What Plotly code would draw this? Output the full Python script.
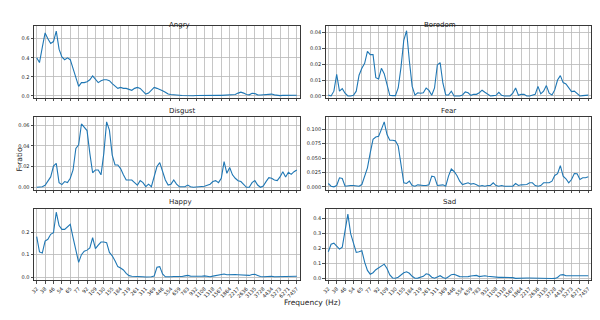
import plotly.graph_objects as go

freq_labels = ["32", "38", "46", "54", "65", "77", "92", "109", "130", "155", "184", "219",
               "261", "311", "369", "446", "554", "659", "783", "932", "1108", "1318", "1567",
               "1864", "2217", "2636", "3135", "3728", "4434", "5273", "6271", "7457"]

angry = [0.40, 0.35, 0.51, 0.66, 0.60, 0.55, 0.57, 0.68, 0.49, 0.41, 0.38, 0.40, 0.38, 0.29,
         0.18, 0.10, 0.14, 0.14, 0.15, 0.17, 0.21, 0.18, 0.14, 0.16, 0.17, 0.17, 0.16, 0.13,
         0.10, 0.08, 0.09, 0.08, 0.08, 0.07, 0.06, 0.08, 0.09, 0.08, 0.045, 0.02, 0.03, 0.06,
         0.09, 0.08, 0.07, 0.055, 0.04, 0.02, 0.015, 0.015, 0.01, 0.008, 0.005, 0.003, 0.002,
         0.002, 0.003, 0.005, 0.006, 0.006, 0.007, 0.006, 0.006, 0.007, 0.008, 0.007, 0.006,
         0.007, 0.008, 0.007, 0.01, 0.015, 0.03, 0.04, 0.03, 0.015, 0.012, 0.028, 0.025, 0.012,
         0.01, 0.012, 0.018, 0.022, 0.02, 0.012, 0.005, 0.004, 0.006, 0.006, 0.008, 0.007,
         0.008, 0.008]

boredom = [0.0005, 0.0, 0.003, 0.0136, 0.003, 0.0046, 0.0017, 0.0, 0.0, 0.0004, 0.003, 0.013,
           0.0174, 0.0205, 0.028, 0.026, 0.026, 0.0115, 0.0107, 0.0174, 0.014, 0.007, 0.0004,
           0.0002, 0.0002, 0.005, 0.018, 0.035, 0.041, 0.022, 0.006, 0.0005, 0.002, 0.0017,
           0.002, 0.005, 0.0035, 0.0004, 0.005, 0.0195, 0.021, 0.008, 0.0006, 0.0006, 0.003,
           0.0, 0.0, 0.0, 0.0006, 0.0025, 0.002, 0.0004, 0.001, 0.001, 0.002, 0.0036, 0.0023,
           0.001, 0.0, 0.0002, 0.0004, 0.0023, 0.0004, 0.0, 0.0, 0.0, 0.0017, 0.005, 0.0004,
           0.001, 0.001, 0.0, 0.0, 0.0006, 0.001, 0.006, 0.0013, 0.003, 0.0065, 0.0017, 0.0006,
           0.0038, 0.010, 0.0128, 0.0084, 0.0075, 0.0048, 0.0027, 0.003, 0.0013, 0.0, 0.0002,
           0.0004, 0.0005]

disgust = [0.0, 0.0, 0.0006, 0.002, 0.0055, 0.010, 0.0205, 0.023, 0.0045, 0.0026, 0.0055,
           0.0045, 0.0087, 0.0167, 0.0375, 0.041, 0.061, 0.058, 0.0546, 0.0327, 0.014, 0.0167,
           0.0167, 0.012, 0.0327, 0.063, 0.055, 0.031, 0.0215, 0.0215, 0.018, 0.012, 0.007,
           0.007, 0.007, 0.0045, 0.002, 0.0064, 0.0045, 0.0006, 0.003, 0.0006, 0.010, 0.020,
           0.0238, 0.015, 0.007, 0.0022, 0.003, 0.007, 0.003, 0.0006, 0.0006, 0.0006, 0.0022,
           0.0006, 0.0, 0.0003, 0.0, 0.0003, 0.001, 0.002, 0.003, 0.0055, 0.0064, 0.0045,
           0.0087, 0.0247, 0.0135, 0.019, 0.012, 0.0087, 0.0064, 0.0055, 0.0022, 0.0, 0.0,
           0.0045, 0.0064, 0.0022, 0.0, 0.0013, 0.0055, 0.0093, 0.0087, 0.007, 0.0064, 0.010,
           0.015, 0.010, 0.0145, 0.0125, 0.015, 0.0167]

fear = [0.0058, 0.001, 0.0, 0.0023, 0.0157, 0.0145, 0.001, 0.0023, 0.0023, 0.0023, 0.001,
        0.001, 0.004, 0.0186, 0.033, 0.059, 0.0826, 0.0866, 0.088, 0.100, 0.113, 0.091, 0.081,
        0.081, 0.080, 0.071, 0.042, 0.007, 0.0058, 0.0099, 0.0023, 0.001, 0.0035, 0.0023,
        0.0023, 0.0023, 0.0035, 0.0186, 0.0174, 0.0023, 0.0023, 0.0035, 0.001, 0.0186, 0.031,
        0.0267, 0.0198, 0.0099, 0.004, 0.0058, 0.007, 0.0047, 0.0058, 0.0035, 0.001, 0.0023,
        0.001, 0.0023, 0.0023, 0.007, 0.0023, 0.001, 0.0023, 0.001, 0.001, 0.0023, 0.001,
        0.0058, 0.0023, 0.0035, 0.0035, 0.004, 0.007, 0.007, 0.0023, 0.001, 0.0023, 0.007,
        0.007, 0.007, 0.0099, 0.0198, 0.023, 0.037, 0.0186, 0.014, 0.007, 0.0128, 0.023,
        0.0227, 0.0128, 0.0157, 0.0157, 0.0174]

happy = [0.18, 0.112, 0.107, 0.16, 0.168, 0.19, 0.197, 0.288, 0.229, 0.212, 0.212, 0.224,
         0.234, 0.175, 0.115, 0.066, 0.10, 0.115, 0.12, 0.13, 0.175, 0.127, 0.142, 0.156,
         0.156, 0.153, 0.11, 0.095, 0.073, 0.047, 0.041, 0.032, 0.017, 0.007, 0.004, 0.004,
         0.005, 0.003, 0.002, 0.001, 0.001, 0.002, 0.005, 0.044, 0.047, 0.015, 0.002, 0.001,
         0.002, 0.003, 0.002, 0.004, 0.003, 0.006, 0.008, 0.005, 0.004, 0.006, 0.003, 0.004,
         0.006, 0.004, 0.002, 0.005, 0.008, 0.01, 0.012, 0.014, 0.011, 0.012, 0.011, 0.012,
         0.011, 0.01, 0.009, 0.006, 0.008, 0.012, 0.013, 0.008, 0.003, 0.002, 0.003, 0.005,
         0.004, 0.002, 0.002, 0.003, 0.003, 0.003, 0.004, 0.004, 0.004, 0.004]

sad = [0.18, 0.23, 0.237, 0.215, 0.197, 0.21, 0.33, 0.43, 0.30, 0.24, 0.175, 0.18, 0.187,
       0.11, 0.055, 0.03, 0.04, 0.06, 0.072, 0.086, 0.097, 0.068, 0.025, 0.005, 0.003, 0.01,
       0.027, 0.04, 0.046, 0.036, 0.016, 0.003, 0.004, 0.008, 0.016, 0.033, 0.028, 0.01,
       0.003, 0.012, 0.02, 0.008, 0.002, 0.013, 0.027, 0.03, 0.02, 0.014, 0.013, 0.012, 0.014,
       0.018, 0.022, 0.022, 0.014, 0.017, 0.02, 0.016, 0.014, 0.012, 0.008, 0.009, 0.01, 0.01,
       0.009, 0.01, 0.007, 0.002, 0.004, 0.005, 0.006, 0.005, 0.005, 0.004, 0.003, 0.002,
       0.002, 0.001, 0.001, 0.001, 0.001, 0.002, 0.008, 0.025, 0.027, 0.02, 0.02, 0.018,
       0.017, 0.018, 0.019, 0.018, 0.018, 0.02]

panels = [
    ("Angry", angry, [0.0, 0.2, 0.4, 0.6], ".1f", [-0.021, 0.733]),
    ("Boredom", boredom, [0.0, 0.01, 0.02, 0.03, 0.04], ".2f", [-0.0013, 0.044]),
    ("Disgust", disgust, [0.0, 0.02, 0.04, 0.06], ".2f", [-0.0026, 0.0677]),
    ("Fear", fear, [0.0, 0.025, 0.05, 0.075, 0.1], ".3f", [-0.0055, 0.1215]),
    ("Happy", happy, [0.0, 0.1, 0.2], ".1f", [-0.0145, 0.3045]),
    ("Sad", sad, [0.0, 0.1, 0.2, 0.3, 0.4], ".1f", [-0.012, 0.468]),
]

W, H = 600, 320
col_px = [(33.9, 299.6), (325.5, 591.1)]
row_px = [(26, 98), (117, 190), (208.5, 280.5)]

fig = go.Figure()
tickvals = [3 * i for i in range(len(freq_labels))]

for k, (name, vals, yt, fmt, yr) in enumerate(panels):
    r, c = divmod(k, 2)
    n = k + 1
    xa = "xaxis" if n == 1 else f"xaxis{n}"
    ya = "yaxis" if n == 1 else f"yaxis{n}"
    xref = "x" if n == 1 else f"x{n}"
    yref = "y" if n == 1 else f"y{n}"
    x0, x1 = col_px[c]
    y0, y1 = row_px[r]
    fig.add_trace(go.Scatter(x=list(range(len(vals))), y=vals, mode="lines",
                             line=dict(color="#1f77b4", width=1.1),
                             xaxis=xref, yaxis=yref, showlegend=False, hoverinfo="skip"))
    axis_common = dict(showline=True, mirror=True, linecolor="#222222", linewidth=0.9,
                       showgrid=True, gridcolor="#b8b8b8", gridwidth=0.8, zeroline=False,
                       ticks="outside", ticklen=2.5, tickwidth=0.8, tickcolor="#222222",
                       automargin=False,
                       tickfont=dict(family="DejaVu Sans", size=5, color="#222222"))
    fig.layout[xa] = dict(domain=[x0 / W, x1 / W], range=[-1, 94], anchor=yref,
                          tickmode="array", tickvals=tickvals, ticktext=freq_labels,
                          showticklabels=(r == 2), tickangle=-45, **axis_common)
    fig.layout[ya] = dict(domain=[1 - y1 / H, 1 - y0 / H], range=yr, anchor=xref,
                          tickmode="array", tickvals=yt, ticktext=[format(v, fmt) for v in yt],
                          **axis_common)
    fig.add_annotation(text=name, x=(x0 + x1) / 2 / W, y=1 - (y0 - 6.5) / H,
                       xref="paper", yref="paper", showarrow=False,
                       font=dict(family="DejaVu Sans", size=7, color="#222222"))

fig.add_annotation(text="F ratio", x=12 / W, y=1 - 160 / H, xref="paper", yref="paper",
                   showarrow=False, textangle=-90,
                   font=dict(family="DejaVu Sans", size=7.5, color="#222222"))
fig.add_annotation(text="Frequency (Hz)", x=312 / W, y=1 - 309 / H, xref="paper", yref="paper",
                   showarrow=False, font=dict(family="DejaVu Sans", size=7.5, color="#222222"))

fig.update_layout(width=W, height=H, margin=dict(l=0, r=0, t=0, b=0, autoexpand=False),
                  paper_bgcolor="white", plot_bgcolor="white", hovermode=False)
fig.write_html("out.html", config={"displayModeBar": False, "staticPlot": True},
               post_script="document.body.style.margin='0';document.body.style.padding='0';")
